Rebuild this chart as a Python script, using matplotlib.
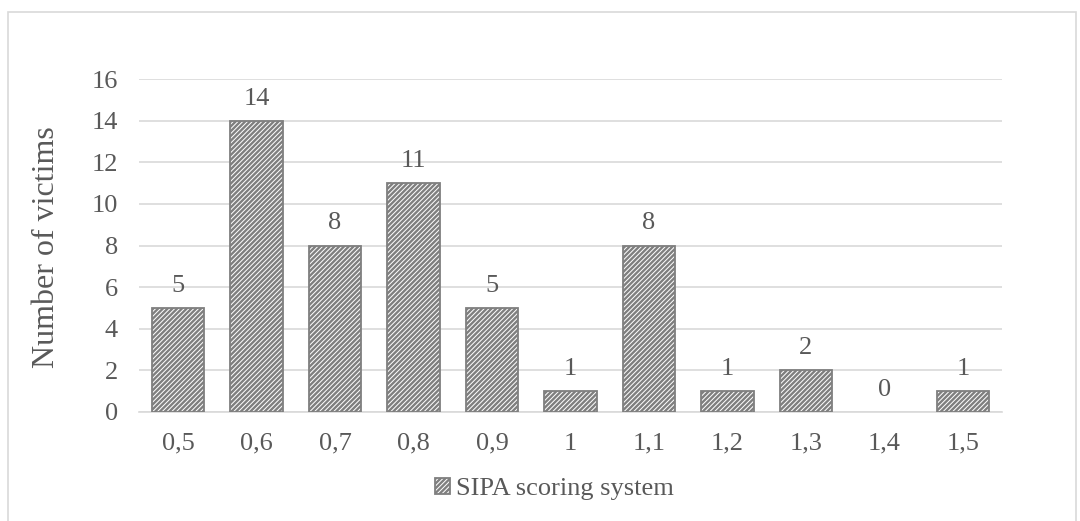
import matplotlib.pyplot as plt
from matplotlib.patches import Rectangle

plt.rcParams['font.family'] = ['Liberation Serif', 'DejaVu Serif']
plt.rcParams['hatch.color'] = '#7f7f7f'
plt.rcParams['hatch.linewidth'] = 1.7

categories = ['0,5', '0,6', '0,7', '0,8', '0,9', '1', '1,1', '1,2', '1,3', '1,4', '1,5']
victims = [5, 14, 8, 11, 5, 1, 8, 1, 2, 0, 1]
series_name = 'SIPA scoring system'
ylabel = 'Number of victims'

text_color = '#595959'
grid_color = '#d9d9d9'
fs = 19

fig = plt.figure(figsize=(10.8, 5.21), dpi=100)
# light frame around the chart area, like Excel
fig.add_artist(Rectangle((8 / 1080, -0.01), 1068 / 1080, 1 - 12 / 521 + 0.01,
                         transform=fig.transFigure, fill=False,
                         edgecolor='#d9d9d9', linewidth=1.2))

ax = fig.add_axes([138.75 / 1080, 1 - 412 / 521, 863.5 / 1080, 333 / 521])
x = range(len(categories))
bars = ax.bar(x, victims, width=0.675, color='white', edgecolor='#7f7f7f',
              hatch='///////', linewidth=1.3, label=series_name, zorder=3)
# Excel draws nothing for a zero-height bar
for b, v in zip(bars, victims):
    if v == 0:
        b.set_linewidth(0)
        b.set_hatch(None)

for xi, v in zip(x, victims):
    ax.annotate(str(v), (xi, v), xytext=(0, 8), textcoords='offset points',
                ha='center', va='bottom', fontsize=fs, color=text_color)

ax.set_xlim(-0.5, len(categories) - 0.5)
ax.set_ylim(0, 16)
ax.set_yticks(range(0, 17, 2))
ax.set_xticks(list(x))
ax.set_xticklabels(categories)
ax.yaxis.grid(True, color=grid_color, linewidth=1.2, zorder=0)
ax.set_axisbelow(True)
for s in ['top', 'right', 'left']:
    ax.spines[s].set_visible(False)
ax.spines['bottom'].set_color(grid_color)
ax.spines['bottom'].set_linewidth(1.2)
ax.tick_params(axis='both', length=0, labelsize=fs, colors=text_color)
ax.tick_params(axis='x', pad=15)
ax.tick_params(axis='y', pad=15)
fig.text(47 / 1080, 1 - 247 / 521, ylabel, rotation=90, ha='center', va='center',
         fontsize=23, color=text_color)

leg = fig.legend(handles=[bars], labels=[series_name], loc='center',
                 bbox_to_anchor=(554 / 1080, 1 - 489 / 521), frameon=False,
                 fontsize=fs, handlelength=0.6, handleheight=0.6,
                 handletextpad=0.2, labelcolor=text_color)

fig.savefig('out.png', dpi=100)
